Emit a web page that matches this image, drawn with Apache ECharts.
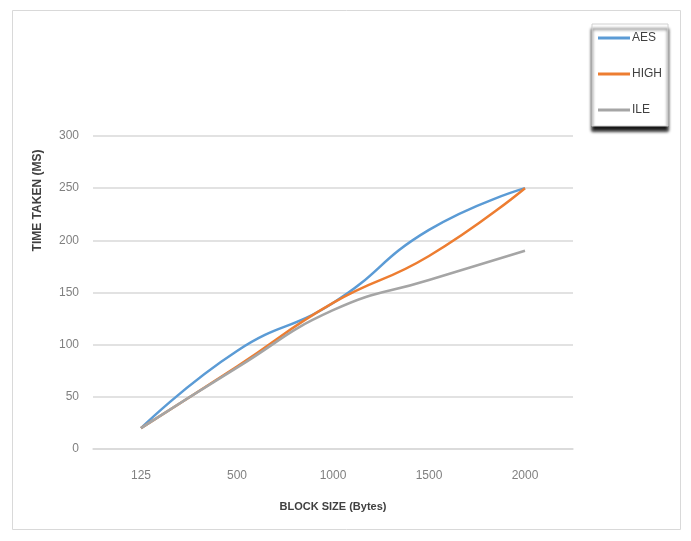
<!DOCTYPE html>
<html>
<head>
<meta charset="utf-8">
<script src="https://cdn.jsdelivr.net/npm/echarts@6/dist/echarts.min.js"></script>
<style>
  html, body { margin: 0; padding: 0; background: #ffffff; }
  #chart { width: 691px; height: 541px; }
</style>
</head>
<body>
<div id="chart"></div>
<script>
// Block sizes (bytes) on the category axis
const blockSizes = ['125', '500', '1000', '1500', '2000'];

// Time taken (ms) per algorithm
const aesTimes  = [20, 94, 140, 210, 250];
const highTimes = [20, 79, 140, 185, 250];
const ileTimes  = [20, 78, 133, 162, 190];

const seriesNames = ['AES', 'HIGH', 'ILE'];
const seriesColors = ['#5B9BD5', '#ED7D31', '#A5A5A5'];

const font = '"Liberation Sans Narrow", "Liberation Sans", Arial, sans-serif';

const chart = echarts.init(document.getElementById('chart'), null, { renderer: 'canvas' });

function lineSeries(name, data, color) {
  return {
    name: name,
    type: 'line',
    data: data,
    smooth: true,
    showSymbol: false,
    symbol: 'none',
    lineStyle: { color: color, width: 2.5 },
    itemStyle: { color: color },
    emphasis: { disabled: true }
  };
}

chart.setOption({
  animation: false,
  backgroundColor: '#ffffff',
  graphic: [{
    type: 'rect',
    shape: { x: 12.5, y: 10.5, width: 668, height: 519 },
    style: { fill: 'none', stroke: '#d9d9d9', lineWidth: 1 },
    silent: true
  }],
  grid: { left: 93, right: 118, top: 136, bottom: 92 },
  legend: {
    orient: 'vertical',
    left: 592,
    top: 24,
    width: 83,
    padding: [8, 6, 10, 6],
    itemGap: 24,
    itemWidth: 32,
    itemHeight: 3,
    icon: 'rect',
    backgroundColor: '#ffffff',
    borderColor: '#d0d0d0',
    borderWidth: 1,
    shadowColor: 'rgba(0,0,0,0.9)',
    shadowBlur: 3,
    shadowOffsetX: 0,
    shadowOffsetY: 5,
    textStyle: { color: '#404040', fontSize: 12, fontFamily: font, padding: [0, 0, 0, -3] },
    data: seriesNames
  },
  xAxis: {
    type: 'category',
    data: blockSizes,
    boundaryGap: true,
    name: 'BLOCK SIZE (Bytes)',
    nameLocation: 'middle',
    nameGap: 52,
    nameTextStyle: { color: '#404040', fontSize: 11, fontWeight: 'bold', fontFamily: font },
    axisLine: { lineStyle: { color: '#d9d9d9', width: 1.5 } },
    axisTick: { show: false },
    axisLabel: { color: '#808080', fontSize: 12, margin: 21, fontFamily: font }
  },
  yAxis: {
    type: 'value',
    min: 0,
    max: 300,
    interval: 50,
    name: 'TIME TAKEN (MS)',
    nameLocation: 'middle',
    nameRotate: 90,
    nameGap: 49,
    nameTextStyle: {
      color: '#404040', fontSize: 12, fontWeight: 'bold', fontFamily: font,
      padding: [0, 0, 0, 184]
    },
    axisLine: { show: false },
    axisTick: { show: false },
    axisLabel: { color: '#808080', fontSize: 12, margin: 14, fontFamily: font },
    splitLine: { lineStyle: { color: '#d9d9d9', width: 1.5 } }
  },
  series: [
    lineSeries(seriesNames[0], aesTimes, seriesColors[0]),
    lineSeries(seriesNames[1], highTimes, seriesColors[1]),
    lineSeries(seriesNames[2], ileTimes, seriesColors[2])
  ]
});
</script>
</body>
</html>
